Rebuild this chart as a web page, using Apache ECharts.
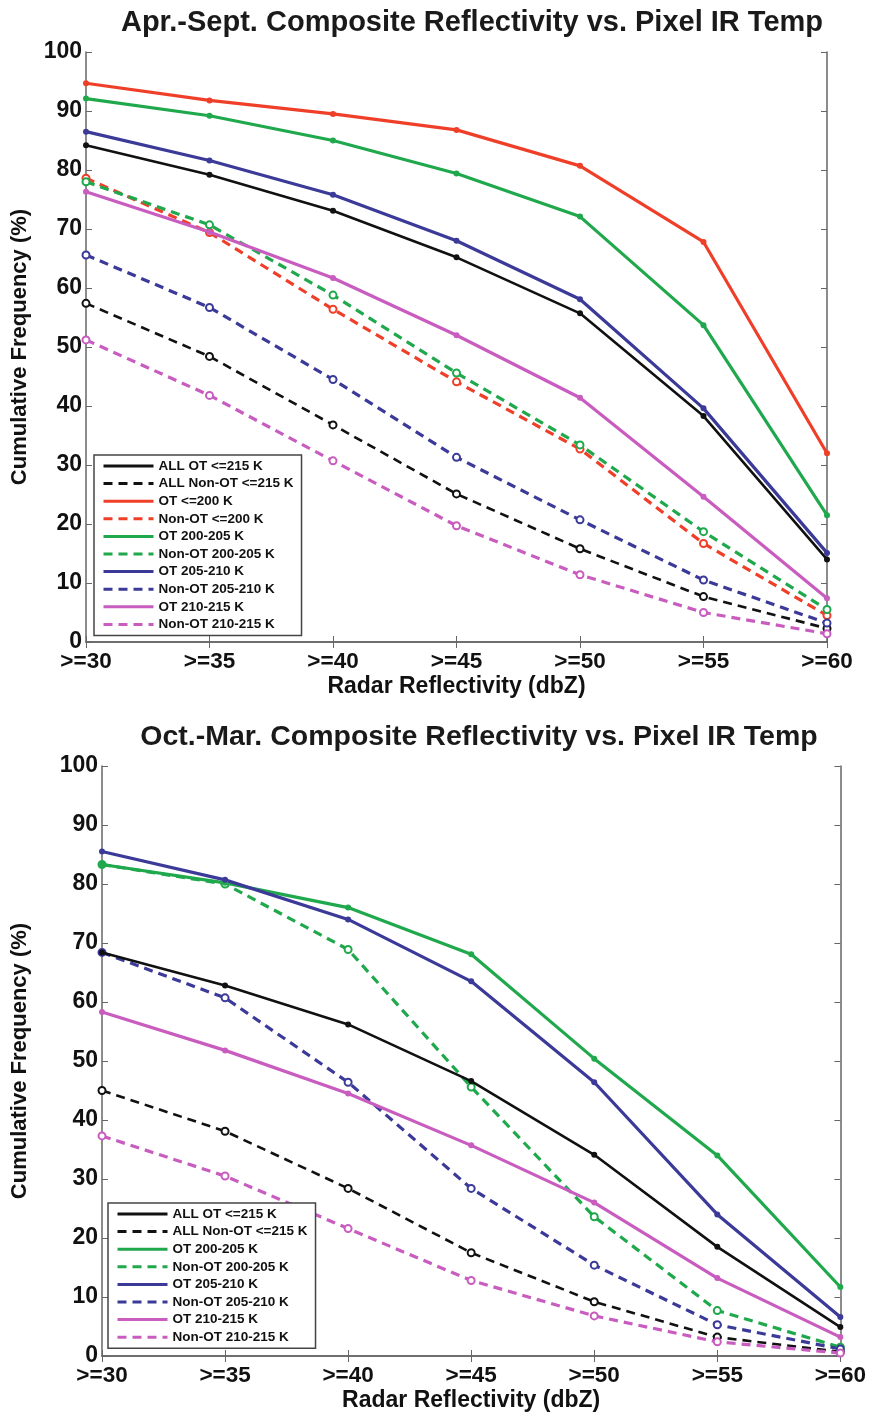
<!DOCTYPE html>
<html>
<head>
<meta charset="utf-8">
<script src="https://cdn.jsdelivr.net/npm/echarts@6/dist/echarts.min.js"></script>
<style>
  html, body { margin: 0; padding: 0; background: #fff; }
  #chart { width: 869px; height: 1413px; }
</style>
</head>
<body>
<div id="chart"></div>
<script>
const categories = ['>=30', '>=35', '>=40', '>=45', '>=50', '>=55', '>=60']

// Apr.-Sept.
const aprAllOT = [84.2, 79.2, 73.1, 65.2, 55.7, 38.3, 14.0]
const aprAllNonOT = [57.4, 48.4, 36.8, 25.1, 15.8, 7.7, 2.3]
const aprOT200 = [94.7, 91.8, 89.5, 86.8, 80.7, 67.8, 32.0]
const aprNonOT200 = [78.6, 69.4, 56.4, 44.1, 32.7, 16.7, 4.5]
const aprOT200to205 = [92.1, 89.2, 85.0, 79.4, 72.1, 53.7, 21.5]
const aprNonOT200to205 = [78.0, 70.7, 58.8, 45.6, 33.4, 18.7, 5.5]
const aprOT205to210 = [86.5, 81.6, 75.8, 68.0, 58.1, 39.6, 15.1]
const aprNonOT205to210 = [65.6, 56.7, 44.5, 31.3, 20.7, 10.5, 3.2]
const aprOT210to215 = [76.3, 69.5, 61.7, 52.0, 41.4, 24.6, 7.4]
const aprNonOT210to215 = [51.2, 41.8, 30.7, 19.7, 11.4, 5.0, 1.4]

// Oct.-Mar.
const octAllOT = [68.4, 62.8, 56.2, 46.6, 34.1, 18.5, 4.9]
const octAllNonOT = [45.0, 38.1, 28.4, 17.5, 9.2, 3.2, 0.7]
const octOT200to205 = [83.3, 80.2, 76.0, 68.1, 50.4, 34.0, 11.7]
const octNonOT200to205 = [83.3, 80.0, 68.9, 45.6, 23.6, 7.7, 1.5]
const octOT205to210 = [85.5, 80.7, 74.0, 63.5, 46.4, 24.0, 6.6]
const octNonOT205to210 = [68.4, 60.7, 46.4, 28.4, 15.4, 5.3, 1.2]
const octOT210to215 = [58.3, 51.8, 44.5, 35.7, 26.0, 13.2, 3.2]
const octNonOT210to215 = [37.3, 30.5, 21.6, 12.8, 6.8, 2.4, 0.5]

const FONT = '"Liberation Sans", Arial, sans-serif'
const BLACK = '#111111'
const RED = '#ef3f29'
const GREEN = '#20a84c'
const BLUE = '#3b3a98'
const MAGENTA = '#c85cbf'
const AXIS_COLOR = '#666'

function line(name, data, color, dashed, axis) {
  return {
    type: 'line',
    name: name,
    data: data,
    xAxisIndex: axis,
    yAxisIndex: axis,
    symbol: dashed ? 'emptyCircle' : 'circle',
    symbolSize: dashed ? 7 : 6,
    z: dashed ? 3 : 4,
    lineStyle: {
      color: color,
      width: color === BLACK ? 2.6 : 3.2,
      type: dashed ? [9, 6] : 'solid'
    },
    itemStyle: {
      color: color,
      borderColor: color,
      borderWidth: dashed ? 1.5 : 0
    },
    animation: false
  }
}

function xAxes(grid) {
  return [
    {
      gridIndex: grid,
      type: 'category',
      data: categories,
      boundaryGap: false,
      position: 'bottom',
      name: 'Radar Reflectivity (dbZ)',
      nameLocation: 'middle',
      nameGap: 33,
      nameTextStyle: { fontSize: 23, fontWeight: 'bold', color: BLACK, fontFamily: FONT },
      axisLine: { lineStyle: { color: AXIS_COLOR, width: 1.5 } },
      axisTick: { inside: true, length: 6, lineStyle: { color: AXIS_COLOR } },
      axisLabel: { margin: 8, fontSize: 22.5, fontWeight: 'bold', color: BLACK, fontFamily: FONT },
      splitLine: { show: false }
    },
    {
      gridIndex: grid,
      type: 'category',
      data: categories,
      boundaryGap: false,
      position: 'top',
      axisLine: { lineStyle: { color: AXIS_COLOR, width: 1.5 } },
      axisTick: { inside: true, length: 6, lineStyle: { color: AXIS_COLOR } },
      axisLabel: { show: false },
      splitLine: { show: false }
    }
  ]
}

function yAxes(grid, nameGap) {
  return [
    {
      gridIndex: grid,
      type: 'value',
      min: 0,
      max: 100,
      interval: 10,
      position: 'left',
      name: 'Cumulative Frequency (%)',
      nameLocation: 'middle',
      nameGap: nameGap,
      nameTextStyle: { fontSize: 22, fontWeight: 'bold', color: BLACK, fontFamily: FONT },
      axisLine: { show: true, lineStyle: { color: AXIS_COLOR, width: 1.5 } },
      axisTick: { show: true, inside: true, length: 6, lineStyle: { color: AXIS_COLOR } },
      axisLabel: { margin: 4, fontSize: 23, fontWeight: 'bold', color: BLACK, fontFamily: FONT },
      splitLine: { show: false }
    },
    {
      gridIndex: grid,
      type: 'value',
      min: 0,
      max: 100,
      interval: 10,
      position: 'right',
      axisLine: { show: true, lineStyle: { color: AXIS_COLOR, width: 1.5 } },
      axisTick: { show: true, inside: true, length: 6, lineStyle: { color: AXIS_COLOR } },
      axisLabel: { show: false },
      splitLine: { show: false }
    }
  ]
}

function legend(names, left, top) {
  return {
    orient: 'vertical',
    left: left,
    top: top,
    data: names,
    backgroundColor: '#fff',
    borderColor: '#444',
    borderWidth: 1.5,
    borderRadius: 0,
    padding: [4, 8, 4, 8],
    itemWidth: 50,
    itemHeight: 14,
    itemGap: 3.6,
    selectedMode: false,
    itemStyle: { opacity: 0 },
    lineStyle: { width: 3 },
    textStyle: { fontSize: 13.5, fontWeight: 'bold', color: BLACK, fontFamily: FONT }
  }
}

const topSeries = [
  line('ALL OT <=215 K', aprAllOT, BLACK, false, 0),
  line('ALL Non-OT <=215 K', aprAllNonOT, BLACK, true, 0),
  line('OT <=200 K', aprOT200, RED, false, 0),
  line('Non-OT <=200 K', aprNonOT200, RED, true, 0),
  line('OT 200-205 K', aprOT200to205, GREEN, false, 0),
  line('Non-OT 200-205 K', aprNonOT200to205, GREEN, true, 0),
  line('OT 205-210 K', aprOT205to210, BLUE, false, 0),
  line('Non-OT 205-210 K', aprNonOT205to210, BLUE, true, 0),
  line('OT 210-215 K', aprOT210to215, MAGENTA, false, 0),
  line('Non-OT 210-215 K', aprNonOT210to215, MAGENTA, true, 0)
]

const bottomSeries = [
  line('ALL OT <=215 K', octAllOT, BLACK, false, 2),
  line('ALL Non-OT <=215 K', octAllNonOT, BLACK, true, 2),
  line('OT 200-205 K', octOT200to205, GREEN, false, 2),
  line('Non-OT 200-205 K', octNonOT200to205, GREEN, true, 2),
  line('OT 205-210 K', octOT205to210, BLUE, false, 2),
  line('Non-OT 205-210 K', octNonOT205to210, BLUE, true, 2),
  line('OT 210-215 K', octOT210to215, MAGENTA, false, 2),
  line('Non-OT 210-215 K', octNonOT210to215, MAGENTA, true, 2)
]

const chart = echarts.init(document.getElementById('chart'), null, { renderer: 'canvas' })
chart.setOption({
  backgroundColor: '#fff',
  animation: false,
  title: [
    {
      text: 'Apr.-Sept. Composite Reflectivity vs. Pixel IR Temp',
      left: 467,
      top: 3,
      textAlign: 'center',
      textStyle: { fontSize: 29, fontWeight: 'bold', color: '#1a1a1a', fontFamily: FONT }
    },
    {
      text: 'Oct.-Mar. Composite Reflectivity vs. Pixel IR Temp',
      left: 474,
      top: 718,
      textAlign: 'center',
      textStyle: { fontSize: 28.5, fontWeight: 'bold', color: '#1a1a1a', fontFamily: FONT }
    }
  ],
  legend: [
    legend(topSeries.map(s => s.name), 94, 455),
    legend(bottomSeries.map(s => s.name), 108, 1203)
  ],
  grid: [
    { left: 86, top: 52, width: 741, height: 590, containLabel: false },
    { left: 102, top: 766, width: 741, height: 590, containLabel: false }
  ],
  xAxis: [...xAxes(0), ...xAxes(1)],
  yAxis: [...yAxes(0, 55), ...yAxes(1, 71)],
  series: [...topSeries, ...bottomSeries]
})
</script>
</body>
</html>
